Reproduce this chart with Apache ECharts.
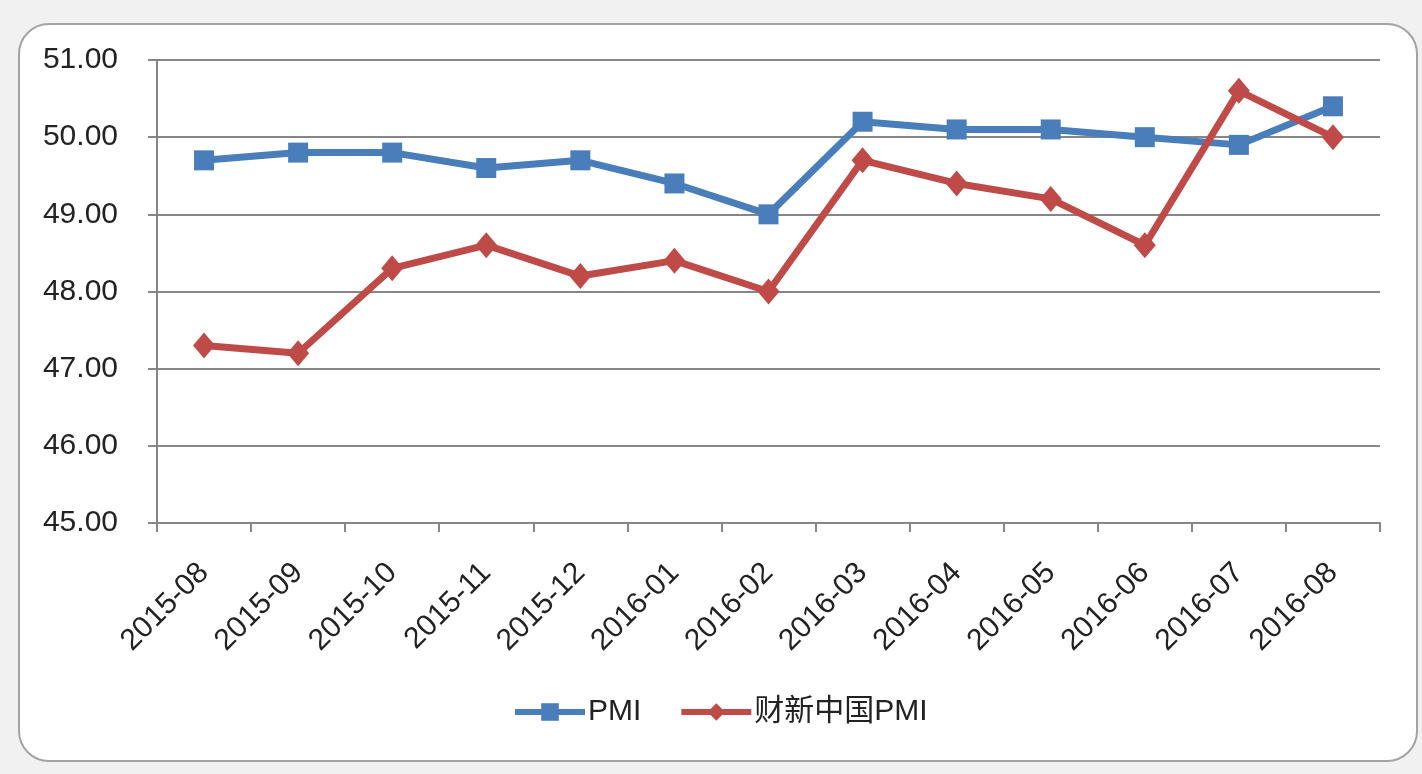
<!DOCTYPE html>
<html lang="zh">
  <head>
    <meta charset="UTF-8" />
    <title>PMI</title>
    <script src="https://cdn.jsdelivr.net/npm/echarts@6/dist/echarts.min.js"></script>
    <style>
      body { margin: 0; background: #f1f1f1; }
      #main { width: 1422px; height: 774px; }
    </style>
  </head>
  <body>
    <div id="main"></div>
    <script type="text/javascript">
      // months on the x axis
      const months = ["2015-08", "2015-09", "2015-10", "2015-11", "2015-12", "2016-01", "2016-02",
        "2016-03", "2016-04", "2016-05", "2016-06", "2016-07", "2016-08"];
      // official PMI
      const pmi = [49.7, 49.8, 49.8, 49.6, 49.7, 49.4, 49.0, 50.2, 50.1, 50.1, 50.0, 49.9, 50.4];
      // Caixin China PMI
      const caixinPmi = [47.3, 47.2, 48.3, 48.6, 48.2, 48.4, 48.0, 49.7, 49.4, 49.2, 48.6, 50.6, 50.0];

      const font = "'Liberation Sans', 'Noto Sans CJK SC', sans-serif";

      let options = {
        backgroundColor: "transparent",
        textStyle: { fontFamily: font },
        graphic: [
          {
            type: "rect",
            z: -10,
            shape: { x: 19, y: 24, width: 1398, height: 737, r: 30 },
            style: { fill: "#ffffff", stroke: "#a3a3a3", lineWidth: 2 },
          },
        ],
        grid: { left: 157, right: 42, top: 60, bottom: 251 },
        legend: {
          left: 507,
          top: 692,
          itemWidth: 70,
          itemHeight: 22,
          itemGap: 37,
          lineStyle: { width: 6 },
          textStyle: { fontSize: 30, color: "#222", fontFamily: font, padding: [0, 0, 0, -2] },
          data: ["PMI", "财新中国PMI"],
        },
        xAxis: {
          type: "category",
          data: months,
          boundaryGap: true,
          axisLine: { lineStyle: { color: "#868686", width: 2 } },
          axisTick: { show: true, length: 9, lineStyle: { color: "#868686", width: 2 } },
          axisLabel: { rotate: 45, fontSize: 30, color: "#222", margin: 45 },
        },
        yAxis: {
          type: "value",
          min: 45,
          max: 51,
          interval: 1,
          axisLine: { show: true, lineStyle: { color: "#868686", width: 2 } },
          axisTick: { show: true, length: 9, lineStyle: { color: "#868686", width: 2 } },
          splitLine: { lineStyle: { color: "#868686", width: 2 } },
          axisLabel: {
            fontSize: 30,
            color: "#222",
            margin: 39,
            formatter: (v) => v.toFixed(2),
          },
        },
        series: [
          {
            name: "PMI",
            type: "line",
            data: pmi,
            symbol: "rect",
            symbolSize: 20,
            lineStyle: { color: "#4a7ebb", width: 7 },
            itemStyle: { color: "#4a7ebb" },
          },
          {
            name: "财新中国PMI",
            type: "line",
            data: caixinPmi,
            symbol: "diamond",
            symbolSize: [22, 26],
            lineStyle: { color: "#be4b48", width: 7 },
            itemStyle: { color: "#be4b48" },
          },
        ],
      };

      let myChart = echarts.init(document.getElementById("main"));
      myChart.setOption(options);
    </script>
  </body>
</html>
